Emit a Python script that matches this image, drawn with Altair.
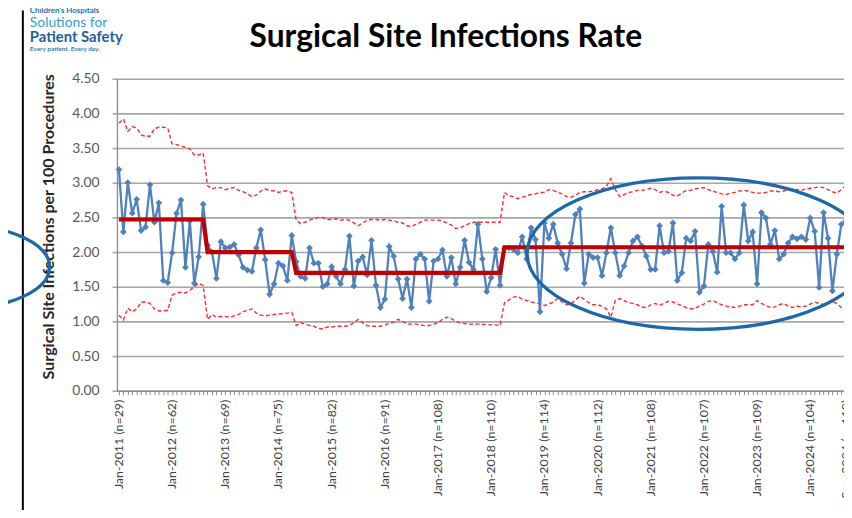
import altair as alt
import pandas as pd

# ---------------- data ----------------
months = list(range(165))  # Jan-2011 .. Sep-2024

rate = [
    3.19, 2.29, 3.00, 2.56, 2.76, 2.31, 2.36, 2.97, 2.43, 2.71, 1.59, 1.56,
    1.99, 2.56, 2.75, 1.78, 2.45, 1.55, 1.93, 2.69, 2.10, 2.00, 1.62, 2.15,
    2.06, 2.07, 2.11, 1.96, 1.78, 1.74, 1.72, 2.06, 2.32, 1.89, 1.39, 1.54,
    1.84, 1.80, 1.59, 2.24, 1.86, 1.65, 1.62, 2.06, 1.84, 1.84, 1.50, 1.54,
    1.79, 1.65, 1.54, 1.75, 2.23, 1.51, 1.87, 1.93, 1.67, 2.17, 1.52, 1.20,
    1.32, 2.08, 1.94, 1.61, 1.33, 1.61, 1.20, 1.90, 1.97, 1.90, 1.29, 1.87,
    1.90, 2.03, 1.65, 1.92, 1.54, 1.78, 2.17, 1.85, 1.75, 2.40, 1.90, 1.43,
    1.63, 2.04, 1.52, 2.05, 2.06, 2.04, 1.99, 2.22, 1.90, 2.35, 2.18, 1.14,
    2.42, 2.20, 2.40, 2.13, 1.97, 1.76, 2.13, 2.54, 2.62, 1.55, 1.97, 1.92,
    1.92, 1.66, 1.99, 2.35, 1.99, 1.66, 1.80, 1.99, 2.16, 2.22, 2.09, 1.94,
    1.75, 1.75, 2.38, 1.99, 2.01, 2.42, 1.59, 1.70, 2.20, 2.16, 2.30, 1.42,
    1.51, 2.11, 2.01, 1.71, 2.66, 1.99, 1.99, 1.90, 1.99, 2.68, 2.16, 2.29,
    1.54, 2.57, 2.49, 2.11, 2.31, 1.90, 1.97, 2.13, 2.22, 2.19, 2.22, 2.18,
    2.49, 2.30, 1.49, 2.57, 2.20, 1.44, 1.97, 2.40, 2.45,
]

ucl = [
    3.86, 3.92, 3.74, 3.81, 3.79, 3.69, 3.67, 3.67, 3.78, 3.80, 3.80, 3.79,
    3.56, 3.55, 3.53, 3.51, 3.49, 3.40, 3.40, 3.43,
    2.96, 2.91, 2.93, 2.93, 2.90, 2.92, 2.93, 2.89, 2.87, 2.84, 2.80, 2.82,
    2.88, 2.91, 2.89, 2.88, 2.86, 2.88, 2.88, 2.86,
    2.46, 2.41, 2.43, 2.46, 2.48, 2.50, 2.50, 2.47, 2.47, 2.48, 2.46, 2.47,
    2.46, 2.42, 2.38, 2.42, 2.46, 2.47, 2.47, 2.46, 2.47, 2.46, 2.45, 2.43,
    2.42, 2.38, 2.37, 2.40, 2.43, 2.46, 2.46, 2.46, 2.46, 2.45, 2.42, 2.39,
    2.34, 2.35, 2.38, 2.41, 2.43, 2.43, 2.43, 2.43, 2.43, 2.43, 2.43,
    2.86, 2.81, 2.80, 2.77, 2.79, 2.81, 2.83, 2.84, 2.86, 2.86, 2.90, 2.89,
    2.86, 2.84, 2.80, 2.79, 2.82, 2.86, 2.87, 2.87, 2.88, 2.90, 2.91, 2.95,
    3.06, 2.90, 2.80, 2.83, 2.86, 2.87, 2.89, 2.89, 2.90, 2.92, 2.90, 2.86,
    2.88, 2.86, 2.82, 2.81, 2.85, 2.89, 2.89, 2.91, 2.92, 2.93, 2.90, 2.88,
    2.86, 2.84, 2.83, 2.85, 2.86, 2.88, 2.89, 2.88, 2.86, 2.85, 2.85, 2.86,
    2.88, 2.88, 2.87, 2.88, 2.90, 2.91, 2.90, 2.89, 2.91, 2.92, 2.93, 2.94,
    2.93, 2.90, 2.87, 2.85, 2.90, 2.96,
]

lcl = [
    1.09, 1.02, 1.19, 1.14, 1.18, 1.28, 1.28, 1.26, 1.18, 1.15, 1.15, 1.16,
    1.38, 1.41, 1.42, 1.41, 1.45, 1.50, 1.55, 1.52,
    1.03, 1.10, 1.06, 1.07, 1.07, 1.06, 1.08, 1.10, 1.14, 1.16, 1.18, 1.12,
    1.09, 1.08, 1.09, 1.10, 1.11, 1.11, 1.12, 1.13,
    0.94, 0.98, 0.96, 0.94, 0.93, 0.90, 0.89, 0.92, 0.92, 0.93, 0.93, 0.93,
    0.94, 0.98, 1.03, 0.98, 0.94, 0.93, 0.93, 0.93, 0.95, 0.97, 0.99, 1.03,
    1.00, 0.96, 0.96, 0.96, 0.95, 0.94, 0.94, 0.96, 0.98, 1.03, 1.06, 1.04,
    1.00, 0.98, 0.97, 0.96, 0.96, 0.96, 0.96, 0.95, 0.95, 0.95, 0.94,
    1.27, 1.31, 1.35, 1.36, 1.32, 1.30, 1.28, 1.27, 1.25, 1.23, 1.25, 1.28,
    1.33, 1.28, 1.24, 1.25, 1.31, 1.36, 1.32, 1.27, 1.24, 1.24, 1.22, 1.18,
    1.06, 1.30, 1.33, 1.30, 1.27, 1.26, 1.24, 1.21, 1.20, 1.24, 1.26, 1.23,
    1.26, 1.29, 1.28, 1.25, 1.23, 1.20, 1.18, 1.19, 1.22, 1.25, 1.29, 1.30,
    1.27, 1.24, 1.22, 1.21, 1.20, 1.22, 1.24, 1.24, 1.24, 1.30, 1.26, 1.23,
    1.20, 1.21, 1.24, 1.26, 1.22, 1.20, 1.22, 1.21, 1.22, 1.25, 1.28, 1.26,
    1.24, 1.26, 1.28, 1.26, 1.20, 1.17,
]

cl_levels = [2.47, 2.00, 1.70, 2.07]
cl_starts = [0, 20, 40, 87]

label_months = [0, 12, 24, 36, 48, 60, 72, 84, 96, 108, 120, 132, 144, 156, 164]
label_texts = [
    "Jan-2011 (n=29)", "Jan-2012 (n=62)", "Jan-2013 (n=69)", "Jan-2014 (n=75)",
    "Jan-2015 (n=82)", "Jan-2016 (n=91)", "Jan-2017 (n=108)", "Jan-2018 (n=110)",
    "Jan-2019 (n=114)", "Jan-2020 (n=112)", "Jan-2021 (n=108)", "Jan-2022 (n=107)",
    "Jan-2023 (n=109)", "Jan-2024 (n=104)", "Sep-2024 (n=118)",
]
y_ticks = [0.0, 0.5, 1.0, 1.5, 2.0, 2.5, 3.0, 3.5, 4.0, 4.5]

# ---------------- tables ----------------
cl = []
for m in months:
    lvl = cl_levels[0]
    for s, v in zip(cl_starts, cl_levels):
        if m >= s:
            lvl = v
    cl.append(lvl)

df = pd.DataFrame({"month": months, "rate": rate, "ucl": ucl, "lcl": lcl, "cl": cl})
labels_df = pd.DataFrame({"month": label_months, "text": label_texts})

# ---------------- layout ----------------
PX = 4.474          # pixels per month
W, H = 734, 315
x_scale = alt.Scale(domain=[-2 / PX, -2 / PX + W / PX], nice=False, zero=False)
y_scale = alt.Scale(domain=[0, 4.5], nice=False, zero=False)

GRID = "#A6A6A6"
x_axis = alt.Axis(values=months, labels=False, title=None, grid=False,
                  tickSize=4, tickColor="#8C8C8C", tickWidth=1,
                  domainColor="#8C8C8C", domainWidth=1.3)
y_axis = alt.Axis(values=y_ticks, format=".2f", title=None, grid=True,
                  gridColor=GRID, gridWidth=1.6, tickSize=5, tickColor=GRID,
                  tickWidth=1.6, domainColor="#8C8C8C", domainWidth=1.3,
                  labelFont="Lato", labelFontSize=14, labelColor="#595959",
                  labelPadding=13)

X = alt.X("month:Q", scale=x_scale, axis=x_axis)


def Y(field):
    return alt.Y(f"{field}:Q", scale=y_scale, axis=y_axis)


base = alt.Chart(df)

ucl_line = base.mark_line(color="#FF2A2A", strokeWidth=1.4, strokeDash=[4, 2.5]).encode(x=X, y=Y("ucl"))
lcl_line = base.mark_line(color="#FF2A2A", strokeWidth=1.4, strokeDash=[4, 2.5]).encode(x=X, y=Y("lcl"))
data_line = base.mark_line(
    color="#4F81BD", strokeWidth=2.3,
    point=alt.OverlayMarkDef(shape="diamond", size=46, filled=True, color="#4F81BD", opacity=1),
).encode(x=X, y=Y("rate"))
cl_line = base.mark_line(color="#C00000", strokeWidth=4.2).encode(x=X, y=Y("cl"))

x_labels = alt.Chart(labels_df).mark_text(
    angle=270, align="right", baseline="middle", font="Lato", fontSize=12.5, color="#404040"
).encode(x=X, y=alt.value(H + 9), text="text:N")

one = pd.DataFrame({"k": [0]})

title = alt.Chart(one).mark_text(
    text="Surgical Site Infections Rate", font="Lato", fontSize=32, fontWeight="bold",
    color="#000000", align="center", baseline="alphabetic"
).encode(x=alt.value(332), y=alt.value(-32))

y_title = alt.Chart(one).mark_text(
    text="Surgical Site Infections per 100 Procedures", font="Lato", fontSize=16.2,
    fontWeight="bold", color="#262626", angle=270, align="center", baseline="middle"
).encode(x=alt.value(-69), y=alt.value(149.5))

logo1 = alt.Chart(one).mark_text(
    text="Children's Hospitals", font="Lato", fontSize=8, fontWeight="bold",
    color="#2A6EB0", align="left", baseline="alphabetic"
).encode(x=alt.value(-88), y=alt.value(-66))
logo2 = alt.Chart(one).mark_text(
    text="Solutions for", font="Lato", fontSize=14, color="#3C9AD6",
    align="left", baseline="alphabetic"
).encode(x=alt.value(-88), y=alt.value(-52))
logo3 = alt.Chart(one).mark_text(
    text="Patient Safety", font="Lato", fontSize=15, fontWeight="bold", color="#1F5E99",
    align="left", baseline="alphabetic"
).encode(x=alt.value(-88), y=alt.value(-37))
logo4 = alt.Chart(one).mark_text(
    text="Every patient. Every day.", font="Lato", fontSize=6.5, fontWeight="bold",
    color="#2E7BC0", align="left", baseline="alphabetic"
).encode(x=alt.value(-88), y=alt.value(-28))

frame_v = alt.Chart(one).mark_rule(color="#000000", strokeWidth=2).encode(
    x=alt.value(-95), y=alt.value(-69), y2=alt.value(441))

ELL_MAIN = "M -1 0 A 1 0.442 0 1 0 1 0 A 1 0.442 0 1 0 -1 0"
ELL_LEFT = "M -1 0 A 1 0.467 0 1 0 1 0 A 1 0.467 0 1 0 -1 0"
ellipse_main = alt.Chart(one).mark_point(
    shape=ELL_MAIN, size=346 * 346, filled=False, stroke="#1C68AA", strokeWidth=3.3, opacity=1
).encode(x=alt.value(587), y=alt.value(176.5))
ellipse_left = alt.Chart(one).mark_point(
    shape=ELL_LEFT, size=180 * 180, filled=False, stroke="#1C68AA", strokeWidth=3.3, opacity=1
).encode(x=alt.value(-158), y=alt.value(190))

chart = alt.layer(
    ucl_line, lcl_line, data_line, cl_line, x_labels,
    title, y_title, logo1, logo2, logo3, logo4, frame_v,
    ellipse_main, ellipse_left,
).properties(
    width=W, height=H, autosize="none",
    padding={"left": 110, "top": 69, "right": 0, "bottom": 118},
).configure_view(stroke=None).configure(background="#FFFFFF")

chart.save("out.html", embed_options={"renderer": "svg", "actions": False})
